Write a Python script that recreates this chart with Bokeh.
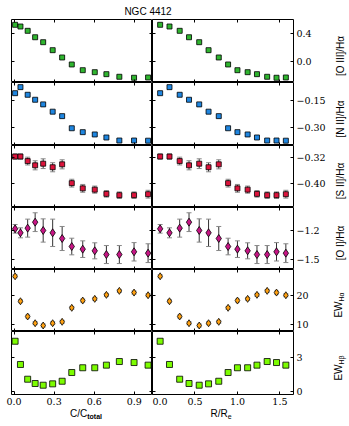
from bokeh.plotting import figure
from bokeh.models import (ColumnDataSource, Whisker, TeeHead, FixedTicker, LinearAxis,
                          Range1d, Div, CustomLabelingPolicy)
from bokeh.layouts import gridplot, column, row
from bokeh.embed import file_html
from bokeh.resources import INLINE

# ---------------- data ----------------
c_frac = [0.008, 0.048, 0.102, 0.158, 0.218, 0.289, 0.360, 0.432, 0.514, 0.604, 0.691, 0.788, 0.898, 1.003]
r_norm = [0.09, 0.20, 0.32, 0.43, 0.55, 0.66, 0.78, 0.89, 1.00, 1.12, 1.23, 1.35, 1.46, 1.57]

oiii = [0.519, 0.495, 0.434, 0.343, 0.273, 0.160, 0.057, -0.042, -0.123, -0.151, -0.179, -0.216, -0.230, -0.226]
oiii_err = [0.012] * 14
nii = [-0.109, -0.075, -0.118, -0.146, -0.172, -0.213, -0.238, -0.306, -0.328, -0.341, -0.358, -0.375, -0.375, -0.376]
nii_err = [0.007] * 14
sii = [-0.316, -0.316, -0.330, -0.343, -0.338, -0.349, -0.340, -0.398, -0.414, -0.418, -0.431, -0.435, -0.435, -0.432]
sii_err = [0.008, 0.008, 0.012, 0.014, 0.015, 0.014, 0.014, 0.012, 0.012, 0.011, 0.010, 0.010, 0.010, 0.012]
oi = [-1.183, -1.224, -1.176, -1.115, -1.200, -1.224, -1.282, -1.364, -1.391, -1.408, -1.446, -1.446, -1.418, -1.432]
oi_err = [0.044, 0.051, 0.092, 0.096, 0.119, 0.140, 0.123, 0.085, 0.085, 0.082, 0.092, 0.092, 0.094, 0.096]
ew_ha = [26.55, 17.93, 12.66, 10.34, 9.55, 10.34, 10.83, 15.66, 18.17, 18.76, 20.14, 21.52, 20.93, 20.0]
ew_ha_err = [0.5] * 14
ew_hb = [4.41, 2.36, 1.06, 0.68, 0.53, 0.65, 0.88, 1.65, 2.07, 2.07, 2.30, 2.62, 2.53, 2.30]
ew_hb_err = [0.08] * 14

x_ticks_c = [0.0, 0.3, 0.6, 0.9]
x_labels_c = ["0.0", "0.3", "0.6", "0.9"]
x_ticks_r = [0.0, 0.5, 1.0, 1.5]
x_labels_r = ["0.0", "0.5", "1.0", "1.5"]
x_range_c = (-0.019, 1.036)
x_range_r = (0.0, 1.66)

title_text = "NGC 4412"
xlabel_c = "C/C<span style='font-size:7px;font-weight:bold;vertical-align:-2px'>total</span>"
xlabel_r = "R/R<span style='font-size:7px;vertical-align:-2px'>e</span>"

rows = [
    dict(y=oiii, err=oiii_err, yr=(-0.297, 0.594), ticks=[0.0, 0.4], labels=["0.0", "0.4"],
         marker="square", size=5, color="#2fb52f", ecolor="#9a9a9a",
         name="[O III]/H\u03b1"),
    dict(y=nii, err=nii_err, yr=(-0.403, -0.049), ticks=[-0.30, -0.15], labels=["\u22120.30", "\u22120.15"],
         marker="square", size=5, color="#1f86e0", ecolor="#9a9a9a",
         name="[N II]/H\u03b1"),
    dict(y=sii, err=sii_err, yr=(-0.473, -0.282), ticks=[-0.40, -0.32], labels=["\u22120.40", "\u22120.32"],
         marker="square", size=5, color="#dc143c", ecolor="#333333",
         name="[S II]/H\u03b1"),
    dict(y=oi, err=oi_err, yr=(-1.599, -0.965), ticks=[-1.5, -1.2], labels=["\u22121.5", "\u22121.2"],
         marker="diamond", size=8, color="#c71585", ecolor="#333333",
         name="[O I]/H\u03b1"),
    dict(y=ew_ha, err=ew_ha_err, yr=(7.48, 28.9), ticks=[10, 20], labels=["10", "20"],
         marker="diamond", size=7, color="#ffa010", ecolor="#777777",
         name="EW<span style='font-size:7px;vertical-align:-2px'>H\u03b1</span>"),
    dict(y=ew_hb, err=ew_hb_err, yr=(-0.29, 5.27), ticks=[0, 3], labels=["0", "3"],
         marker="square", size=6, color="#7cfc00", ecolor="#9a9a9a",
         name="EW<span style='font-size:7px;vertical-align:-2px'>H\u03b2</span>"),
]
frame_heights = [63, 63, 62, 62, 62, 63]
TOP_H = 19
BOTTOM_BORDER = 13
XL_H = 426 - TOP_H - sum(frame_heights) - BOTTOM_BORDER
RIGHT_BORDER = 33
LEFT_BORDER = 11
FRAME_W = 141
TOTAL_W = 349
YL_W = TOTAL_W - LEFT_BORDER - 2 * FRAME_W - RIGHT_BORDER

TICK_FONT = "DejaVu Serif"
LABEL_FONT = "Liberation Sans"

hide_policy_code = "for (const i of indices) { indices.unset(i) }\nreturn indices"


def add_axes(p, xticks, xlabels, yticks, ylabels, label_bottom, label_right):
    specs = [("below", xticks, xlabels, label_bottom),
             ("above", xticks, xlabels, False),
             ("left", yticks, ylabels, False),
             ("right", yticks, ylabels, label_right)]
    for loc, ticks, labs, show in specs:
        ax = LinearAxis(ticker=FixedTicker(ticks=ticks))
        ax.major_tick_in = 3
        ax.major_tick_out = 0
        ax.minor_tick_line_color = None
        ax.axis_line_color = None
        ax.major_tick_line_color = "black"
        if show:
            ax.major_label_overrides = {t: s for t, s in zip(ticks, labs)}
            ax.major_label_text_font = TICK_FONT
            ax.major_label_text_font_size = "9.5px"
            ax.major_label_text_color = "black"
            ax.major_label_standoff = 3
        else:
            ax.major_label_text_font_size = "0px"
            ax.major_label_standoff = 0
            ax.major_label_policy = CustomLabelingPolicy(code=hide_policy_code)
        p.add_layout(ax, loc)


children = []
n = len(rows)
for i, rw in enumerate(rows):
    for col in range(2):
        xs = c_frac if col == 0 else r_norm
        xr = x_range_c if col == 0 else x_range_r
        bottom = (i == n - 1)
        p = figure(frame_width=FRAME_W, frame_height=frame_heights[i],
                   x_range=Range1d(*xr), y_range=Range1d(*rw["yr"]),
                   output_backend="svg", toolbar_location=None,
                   x_axis_location=None, y_axis_location=None,
                   min_border_left=LEFT_BORDER if col == 0 else 0,
                   min_border_right=0 if col == 0 else RIGHT_BORDER,
                   min_border_top=0,
                   min_border_bottom=BOTTOM_BORDER if bottom else 0)
        p.xgrid.visible = False
        p.ygrid.visible = False
        p.outline_line_color = "black"
        p.outline_line_width = 1
        p.background_fill_color = "white"
        p.border_fill_color = "white"

        lower = [v - e for v, e in zip(rw["y"], rw["err"])]
        upper = [v + e for v, e in zip(rw["y"], rw["err"])]
        src = ColumnDataSource(dict(x=xs, y=rw["y"], lower=lower, upper=upper))
        w = Whisker(source=src, base="x", lower="lower", upper="upper", dimension="height",
                    line_color=rw["ecolor"], line_width=1,
                    upper_head=TeeHead(size=5, line_color="#888888", line_width=1),
                    lower_head=TeeHead(size=5, line_color="#888888", line_width=1))
        p.add_layout(w)
        p.scatter("x", "y", source=src, marker=rw["marker"], size=rw["size"],
                  fill_color=rw["color"], line_color="black", line_width=0.8)

        xt = x_ticks_c if col == 0 else x_ticks_r
        xl = x_labels_c if col == 0 else x_labels_r
        add_axes(p, xt, xl, rw["ticks"], rw["labels"], bottom, col == 1)
        children.append(p)

grid = gridplot(children, ncols=2, toolbar_location=None)

# right-hand y labels (rotated HTML text)
ylabel_divs = []
for i, rw in enumerate(rows):
    h = frame_heights[i] + (BOTTOM_BORDER if i == n - 1 else 0)
    cy = frame_heights[i] / 2 + 5
    html = ("<div style='position:relative;width:%dpx;height:%dpx;'>"
            "<div style='position:absolute;left:12px;top:%.1fpx;transform:translate(-50%%,-50%%) rotate(-90deg);"
            "white-space:nowrap;font-family:\"%s\";font-size:10px;line-height:11px;color:black;'>%s</div></div>"
            % (YL_W, h, cy, LABEL_FONT, rw["name"]))
    ylabel_divs.append(Div(text=html, width=YL_W, height=h, margin=0))
ylabel_col = column(*ylabel_divs, spacing=0, margin=0)

title = Div(text=("<div style='position:relative;width:%dpx;height:%dpx;'>"
                  "<div style='position:absolute;left:148px;top:6px;transform:translateX(-50%%);white-space:nowrap;"
                  "font-family:\"%s\";font-size:10px;line-height:11px;color:black;'>%s</div></div>"
                  % (TOTAL_W, TOP_H, LABEL_FONT, title_text)),
            width=TOTAL_W, height=TOP_H, margin=0)


def xlabel_div(text, w, cx):
    html = ("<div style='position:relative;width:%dpx;height:%dpx;'>"
            "<div style='position:absolute;left:%dpx;top:1px;transform:translateX(-50%%);white-space:nowrap;"
            "font-family:\"%s\";font-size:10px;line-height:11px;color:black;'>%s</div></div>"
            % (w, XL_H, cx, LABEL_FONT, text))
    return Div(text=html, width=w, height=XL_H, margin=0)


xl_left = xlabel_div(xlabel_c, LEFT_BORDER + FRAME_W, 86)
xl_right = xlabel_div(xlabel_r, FRAME_W + RIGHT_BORDER + YL_W, 69)

layout = column(title,
                row(grid, ylabel_col, spacing=0, margin=0),
                row(xl_left, xl_right, spacing=0, margin=0),
                spacing=0, margin=0)

with open("out.html", "w") as f:
    f.write(file_html(layout, INLINE))
